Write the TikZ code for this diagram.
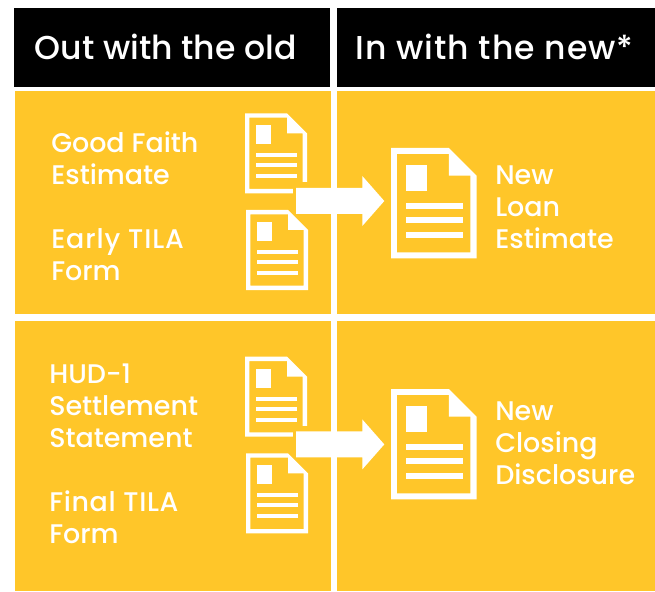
\documentclass[tikz,border=0pt]{standalone}
\usepackage{fontspec}
\setmainfont{Poppins Medium}
\definecolor{gold}{HTML}{FFC629}
\tikzset{
  cell/.style={fill=gold,draw=none},
  head/.style={fill=black,draw=none},
  headtxt/.style={anchor=base west,text=white,font=\fontsize{24.8}{28}\selectfont,inner sep=0pt},
  bodytxt/.style={anchor=base west,text=white,font=\fontsize{20.2}{24}\selectfont,inner sep=0pt,align=left},
}
% #1 left, #2 top, #3 scale
\newcommand{\docicon}[3]{%
  \begin{scope}[shift={(#1,#2)},scale=#3]
    \fill[white,even odd rule] (0,0) -- (42,0) -- (62,20) -- (62,80) -- (0,80) -- cycle
      (4.3,4.3) -- (4.3,75.7) -- (57.6,75.7) -- (57.6,20) -- (42,20) -- (42,4.3) -- cycle;
    \fill[white] (11,12) rectangle (26,31);
    \fill[white] (11,40) rectangle (52,44);
    \fill[white] (11,50) rectangle (52,54);
    \fill[white] (11,61) rectangle (52,65);
  \end{scope}}
\newcommand{\bigarrow}[1]{%
  \fill[white,shift={(0,#1)}] (296,188) -- (362.3,188) -- (362.3,176) -- (384.3,201)
    -- (362.3,226) -- (362.3,214) -- (296,214) -- cycle;}
\begin{document}
\begin{tikzpicture}[x=0.75pt,y=-0.75pt]
\useasboundingbox (0,0) rectangle (655,591);
\fill[white] (0,0) rectangle (655,591);
\fill[head] (14,8) rectangle (330,87);
\fill[head] (337,8) rectangle (655,87);
\fill[cell] (15,91) rectangle (331,314);
\fill[cell] (337,91) rectangle (655,314);
\fill[cell] (15,321) rectangle (331,591);
\fill[cell] (337,321) rectangle (655,591);
\node[headtxt] (h1) at (34.5,59.5) {Out with the old};
\node[headtxt] (h2) at (355.5,59.5) {\addfontfeature{LetterSpace=3}In with the new*};
\node[bodytxt] (t1) at (51,153) {Good Faith};
\node[bodytxt] (t2) at (51,185) {Estimate};
\node[bodytxt] (t3) at (51,248) {\addfontfeature{LetterSpace=3.3}Early TILA};
\node[bodytxt] (t4) at (51,280) {Form};
\node[bodytxt] (t5) at (495,185) {New};
\node[bodytxt] (t6) at (495,216.5) {Loan};
\node[bodytxt] (t7) at (495,248) {Estimate};
\node[bodytxt] (t8) at (49,383) {HUD-1};
\node[bodytxt] (t9) at (49,415) {Settlement};
\node[bodytxt] (t10) at (49,447) {Statement};
\node[bodytxt] (t11) at (49,511) {\addfontfeature{LetterSpace=2.5}Final TILA};
\node[bodytxt] (t12) at (49,543) {Form};
\node[bodytxt] (t13) at (495,420) {New};
\node[bodytxt] (t14) at (495,452) {Closing};
\node[bodytxt] (t15) at (495,484) {Disclosure};
\docicon{245}{113.3}{1}
\fill[gold] (293,182) rectangle (310,195);
\docicon{246}{210}{1}
\docicon{391}{148}{1.38}
\bigarrow{0}
\docicon{245}{356.7}{1}
\fill[gold] (293,425.5) rectangle (310,438.5);
\docicon{246}{453.3}{1}
\docicon{391}{389}{1.38}
\bigarrow{243.4}
\end{tikzpicture}
\end{document}
